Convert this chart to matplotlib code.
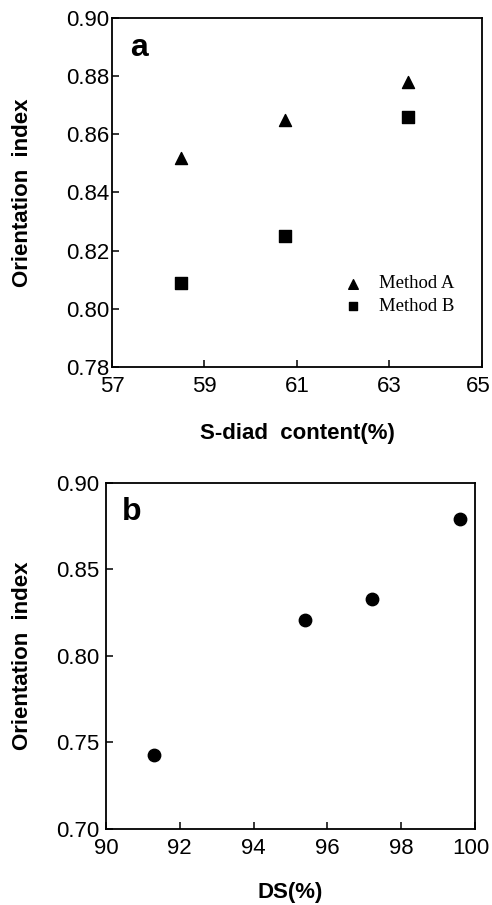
import matplotlib.pyplot as plt
from matplotlib.transforms import ScaledTranslation

# panel a: orientation index vs S-diad content
sdiad = [58.5, 60.75, 63.4]
method_a = [0.852, 0.865, 0.878]
method_b = [0.809, 0.825, 0.866]

# panel b: orientation index vs DS
ds = [91.3, 95.4, 97.2, 99.6]
orient_b = [0.743, 0.821, 0.833, 0.879]

plt.rcParams['font.family'] = 'Liberation Sans'

fig = plt.figure(figsize=(4.92, 9.05), dpi=100)
ax1 = fig.add_axes([0.2276, 0.5945, 0.752, 0.3856])
ax2 = fig.add_axes([0.2154, 0.084, 0.75, 0.3823])

ax1.scatter(sdiad, method_a, marker='^', s=75, color='black', label='Method A')
ax1.scatter(sdiad, method_b, marker='s', s=65, color='black', label='Method B')
ax1.set_xlim(57, 65)
ax1.set_ylim(0.78, 0.90)
ax1.set_xticks([57, 59, 61, 63, 65])
ax1.set_yticks([0.78, 0.80, 0.82, 0.84, 0.86, 0.88, 0.90])
ax1.set_yticklabels([f"{v:.2f}" for v in ax1.get_yticks()])
ax1.text(0.05, 0.915, 'a', transform=ax1.transAxes, fontsize=23,
         fontweight='bold', va='center')
ax1.legend(loc='lower right', bbox_to_anchor=(0.97, 0.1), frameon=False,
           prop={'family': 'Liberation Serif', 'size': 13.5},
           handletextpad=0.35, labelspacing=0.3, markerscale=0.8)
ax1.set_xlabel('S-diad  content(%)', fontsize=16, fontweight='bold')
ax1.set_ylabel('Orientation  index', fontsize=16, fontweight='bold', va='center')
ax1.xaxis.set_label_coords(0.5, -0.19)
ax1.yaxis.set_label_coords(-0.243, 0.5)

ax2.scatter(ds, orient_b, marker='o', s=80, color='black')
ax2.set_xlim(90, 100)
ax2.set_ylim(0.70, 0.90)
ax2.set_xticks([90, 92, 94, 96, 98, 100])
ax2.set_yticks([0.70, 0.75, 0.80, 0.85, 0.90])
ax2.set_yticklabels([f"{v:.2f}" for v in ax2.get_yticks()])
ax2.text(0.043, 0.916, 'b', transform=ax2.transAxes, fontsize=23,
         fontweight='bold', va='center')
ax2.set_xlabel('DS(%)', fontsize=16, fontweight='bold')
ax2.set_ylabel('Orientation  index', fontsize=16, fontweight='bold', va='center')
ax2.xaxis.set_label_coords(0.5, -0.185)
ax2.yaxis.set_label_coords(-0.225, 0.5)

for ax in (ax1, ax2):
    for sp in ax.spines.values():
        sp.set_linewidth(1.3)
    ax.tick_params(direction='in', length=5, width=1.1, labelsize=16)
    ax.tick_params(axis='y', pad=2)
    ax.tick_params(axis='x', pad=6.5)
    ax.xaxis.label.set_va('center')

ax2.tick_params(axis='y', pad=5)

# nudge the last x tick labels so they stay inside the figure
for ax in (ax1, ax2):
    lab = ax.get_xticklabels()[-1]
    lab.set_transform(lab.get_transform() + ScaledTranslation(-4 / 100, 0, fig.dpi_scale_trans))

fig.savefig('out.png', dpi=100)
